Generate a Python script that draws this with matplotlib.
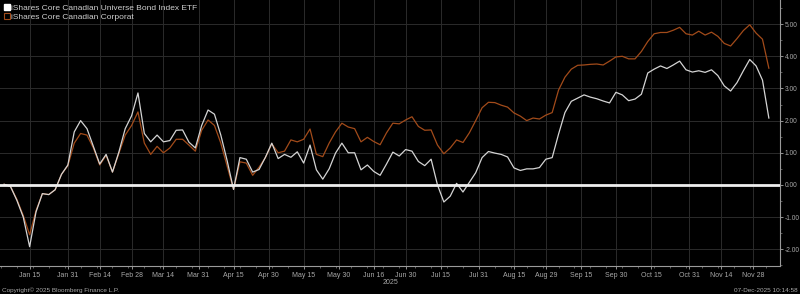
import numpy as np
import pandas as pd
import matplotlib
matplotlib.use("Agg")
import matplotlib.pyplot as plt
from matplotlib.lines import Line2D

plt.rcParams["font.family"] = ["Liberation Sans", "DejaVu Sans"]

# ---------------- data ----------------
start_date = "2025-01-02"
end_date = "2025-12-05"

universe = [
    0.02, -0.05, -0.48, -1.00, -1.92, -0.84, -0.27, -0.30, -0.15, 0.33,
    0.62, 1.65, 2.00, 1.75, 1.20, 0.65, 0.95, 0.40, 1.02, 1.75,
    2.15, 2.86, 1.60, 1.34, 1.55, 1.34, 1.38, 1.70, 1.71, 1.33,
    1.15, 1.85, 2.33, 2.20, 1.55, 0.75, -0.14, 0.85, 0.80, 0.40,
    0.48, 0.86, 1.30, 0.82, 0.95, 0.86, 1.03, 0.68, 1.24, 0.47,
    0.18, 0.50, 0.99, 1.30, 1.00, 1.00, 0.47, 0.62, 0.42, 0.30,
    0.65, 1.02, 0.90, 1.10, 1.05, 0.73, 0.60, 0.80, 0.00, -0.53,
    -0.35, 0.05, -0.22, 0.08, 0.38, 0.85, 1.04, 0.99, 0.95, 0.87,
    0.53, 0.45, 0.50, 0.50, 0.54, 0.80, 0.85, 1.58, 2.25, 2.60,
    2.70, 2.80, 2.73, 2.68, 2.61, 2.55, 2.88, 2.80, 2.62, 2.67,
    2.82, 3.48, 3.60, 3.70, 3.62, 3.73, 3.85, 3.58, 3.51, 3.55,
    3.50, 3.58, 3.40, 3.08, 2.92, 3.18, 3.55, 3.90, 3.70, 3.26,
    2.08,
]

corporate = [
    0.02, -0.05, -0.45, -0.95, -1.55, -0.80, -0.27, -0.30, -0.15, 0.33,
    0.60, 1.30, 1.60, 1.55, 1.15, 0.62, 0.92, 0.40, 0.98, 1.55,
    1.85, 2.27, 1.30, 0.95, 1.20, 1.00, 1.15, 1.42, 1.42, 1.24,
    1.05, 1.70, 2.02, 1.85, 1.30, 0.58, -0.14, 0.72, 0.68, 0.30,
    0.55, 0.85, 1.28, 1.00, 1.05, 1.40, 1.34, 1.42, 1.74, 0.95,
    0.88, 1.30, 1.65, 1.92, 1.80, 1.75, 1.34, 1.48, 1.35, 1.25,
    1.62, 1.92, 1.90, 2.02, 2.12, 1.82, 1.70, 1.71, 1.24, 0.97,
    1.15, 1.40, 1.32, 1.62, 2.00, 2.40, 2.57, 2.56, 2.48, 2.42,
    2.24, 2.14, 2.00, 2.08, 2.05, 2.17, 2.25, 2.95, 3.35, 3.60,
    3.72, 3.73, 3.75, 3.76, 3.73, 3.85, 3.98, 4.00, 3.92, 3.92,
    4.15, 4.46, 4.70, 4.74, 4.74, 4.81, 4.90, 4.70, 4.66, 4.78,
    4.66, 4.75, 4.62, 4.40, 4.32, 4.55, 4.80, 4.98, 4.72, 4.53,
    3.63,
]

tick_dates = ["2025-01-15", "2025-01-31", "2025-02-14", "2025-02-28", "2025-03-14",
              "2025-03-31", "2025-04-15", "2025-04-30", "2025-05-15", "2025-05-30",
              "2025-06-16", "2025-06-30", "2025-07-15", "2025-07-31", "2025-08-15",
              "2025-08-29", "2025-09-15", "2025-09-30", "2025-10-15", "2025-10-31",
              "2025-11-14", "2025-11-28"]
tick_labels = ["Jan 15", "Jan 31", "Feb 14", "Feb 28", "Mar 14", "Mar 31", "Apr 15",
               "Apr 30", "May 15", "May 30", "Jun 16", "Jun 30", "Jul 15", "Jul 31",
               "Aug 15", "Aug 29", "Sep 15", "Sep 30", "Oct 15", "Oct 31", "Nov 14",
               "Nov 28"]
y_ticks = [-2, -1, 0, 1, 2, 3, 4, 5]

series_names = ["iShares Core Canadian Universe Bond Index ETF",
                "iShares Core Canadian Corporat"]

# ---------------- positions (business-day axis) ----------------
bdays = pd.bdate_range(start_date, end_date)
pos_all = np.arange(len(bdays))
sel = pos_all[1::2]
assert len(sel) == len(universe) == len(corporate)
tick_pos = [bdays.get_loc(pd.Timestamp(d)) for d in tick_dates]

# ---------------- figure ----------------
BG = "#000000"
GRID = "#2b2b2b"
TXT = "#a8a8a8"
WHITE_LINE = "#d4d4d4"
ORANGE_LINE = "#a24b1a"

fig = plt.figure(figsize=(8, 2.94), dpi=100, facecolor=BG)
ax = fig.add_axes([0.0, 28 / 294, 780 / 800, 266 / 294], facecolor=BG)

ax.plot(sel, corporate, color=ORANGE_LINE, lw=0.9, zorder=3)
ax.plot(sel, universe, color=WHITE_LINE, lw=0.9, zorder=4)
ax.axhline(0, color="#eeeeee", lw=2.0, zorder=5)

ax.set_xlim(-0.3, 244.5)
ax.set_ylim(-2.52, 5.75)

ax.set_xticks(tick_pos)
ax.set_xticklabels(tick_labels)
ax.set_xticks(pos_all[::5], minor=True)
ax.yaxis.tick_right()
ax.set_yticks(y_ticks)
ax.set_yticklabels([f"{v:.2f}" for v in y_ticks])
ax.set_yticks(np.arange(-2.5, 5.75, 0.5), minor=True)

ax.grid(True, which="major", color=GRID, lw=0.7)
ax.tick_params(axis="x", which="major", colors=TXT, labelsize=5.0, length=2, width=0.6, pad=2)
ax.tick_params(axis="x", which="minor", colors="#808080", length=1.5, width=0.5)
ax.tick_params(axis="y", which="major", colors=TXT, labelsize=4.8, length=2, width=0.6, pad=1.2, direction="out")
ax.tick_params(axis="y", which="minor", colors="#808080", length=1.5, width=0.5)

for side in ["top", "left"]:
    ax.spines[side].set_visible(False)
ax.spines["bottom"].set_color("#9a9a9a")
ax.spines["bottom"].set_linewidth(0.8)
ax.spines["right"].set_color("#9a9a9a")
ax.spines["right"].set_linewidth(0.8)

# legend
handles = [
    Line2D([], [], marker="s", markersize=4, markerfacecolor="#ffffff",
           markeredgecolor="#ffffff", linestyle="none"),
    Line2D([], [], marker="s", markersize=4, markerfacecolor="none",
           markeredgecolor=ORANGE_LINE, markeredgewidth=0.8, linestyle="none"),
]
leg = ax.legend(handles, series_names, loc="upper left", bbox_to_anchor=(0.0, 1.0),
                frameon=False, fontsize=6.0, handlelength=0.6, handletextpad=0.2,
                labelspacing=0.1, borderaxespad=0.3, borderpad=0.2)
for t in leg.get_texts():
    t.set_color("#cfcfcf")

# footer texts
fig.text(390 / 800, 1 - 283 / 294, "2025", color=TXT, fontsize=5.0, ha="center", va="center")
fig.text(2 / 800, 1 - 290 / 294, "Copyright\u00a9 2025 Bloomberg Finance L.P.", color=TXT,
         fontsize=4.6, ha="left", va="center")
fig.text(798 / 800, 1 - 290 / 294, "07-Dec-2025 10:14:58", color=TXT,
         fontsize=4.6, ha="right", va="center")

fig.savefig("out.png", dpi=100, facecolor=BG)
